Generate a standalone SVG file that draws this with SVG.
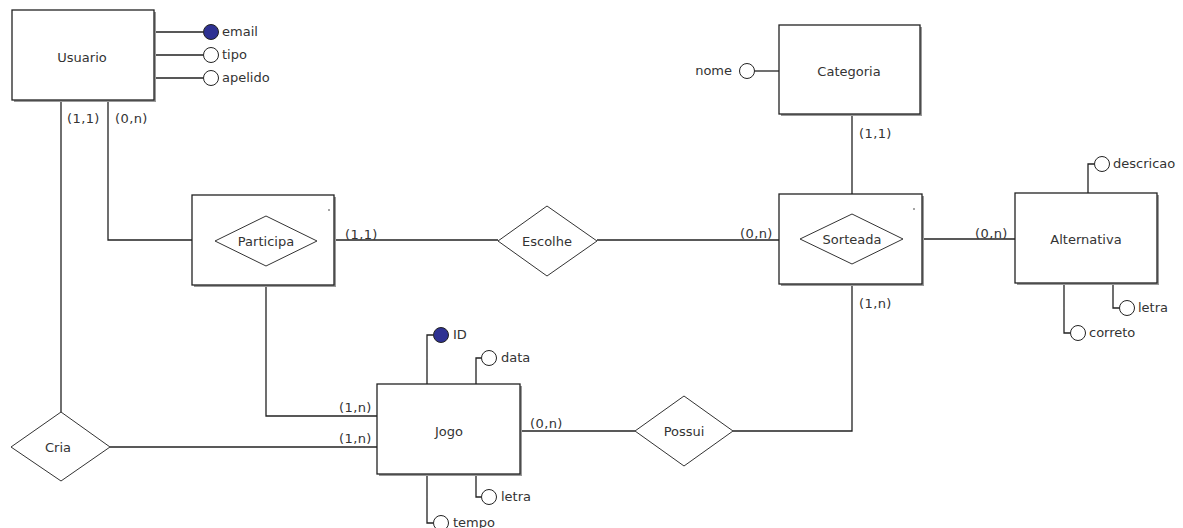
<svg xmlns="http://www.w3.org/2000/svg" width="1183" height="528" viewBox="0 0 1183 528">
<style>
.ent{fill:#fff;stroke:#222;stroke-width:1.3}
.sh{fill:#9a9a9a}
.rel{fill:#fff;stroke:#333;stroke-width:1}
.ln{fill:none;stroke:#222;stroke-width:1.3}
.t{font-family:"DejaVu Sans",Verdana,sans-serif;font-size:13px;fill:#333}
.c{text-anchor:middle}
.card{font-family:"DejaVu Sans",Verdana,sans-serif;font-size:13px;fill:#333;letter-spacing:0.4px}
.at{fill:#fff;stroke:#222;stroke-width:1}
.pk{fill:#2e3192;stroke:#222;stroke-width:1}
</style>
<rect width="1183" height="528" fill="#fff"/>
<g id="connectors">
  <path class="ln" d="M155 32H203M155 55H203M155 78H203"/>
  <path class="ln" d="M61 100V412"/>
  <path class="ln" d="M108 100V240H215"/>
  <path class="ln" d="M266 266V416H377"/>
  <path class="ln" d="M110 447H377"/>
  <path class="ln" d="M335 240H498"/>
  <path class="ln" d="M597 240H779"/>
  <path class="ln" d="M852 114V214"/>
  <path class="ln" d="M903 239H1015"/>
  <path class="ln" d="M520 431H635"/>
  <path class="ln" d="M733 431H852V284"/>
  <path class="ln" d="M779 71H755"/>
  <path class="ln" d="M427 384V335H433M476 384V358H481M476 474V497H481M427 474V523H433"/>
  <path class="ln" d="M1088 193V164H1094M1113 283V308H1119M1064 283V333H1070"/>
  <text class="card" x="67" y="123">(1,1)</text>
  <text class="card" x="115" y="123">(0,n)</text>
  <text class="card" x="345" y="239">(1,1)</text>
  <text class="card" x="740" y="238">(0,n)</text>
  <text class="card" x="975" y="238">(0,n)</text>
  <text class="card" x="859" y="138">(1,1)</text>
  <text class="card" x="859" y="308">(1,n)</text>
  <text class="card" x="339" y="412">(1,n)</text>
  <text class="card" x="339" y="443">(1,n)</text>
  <text class="card" x="530" y="428">(0,n)</text>
</g>
<g id="Usuario">
  <rect class="sh" x="14" y="12" width="142" height="90"/>
  <rect class="ent" x="12" y="10" width="142" height="90"/>
  <text class="t c" x="82" y="62">Usuario</text>
  <circle class="pk" cx="211" cy="32" r="7.5"/>
  <circle class="at" cx="211" cy="55" r="7.5"/>
  <circle class="at" cx="211" cy="78" r="7.5"/>
  <text class="t" x="222" y="36">email</text>
  <text class="t" x="222" y="59">tipo</text>
  <text class="t" x="222" y="82">apelido</text>
</g>
<g id="Categoria">
  <rect class="sh" x="781" y="27" width="141" height="89"/>
  <rect class="ent" x="779" y="25" width="141" height="89"/>
  <text class="t c" x="849" y="76">Categoria</text>
  <circle class="at" cx="747" cy="71" r="7.5"/>
  <text class="t" x="732" y="75" text-anchor="end">nome</text>
</g>
<g id="Participa">
  <rect class="sh" x="194" y="197" width="142" height="90"/>
  <rect class="ent" x="192" y="195" width="142" height="90"/>
  <circle cx="329" cy="210" r="0.8" fill="#333"/>
  <polygon class="rel" points="215,241 266,216 317,241 266,266"/>
  <text class="t c" x="266" y="246">Participa</text>
</g>
<g id="Escolhe">
  <polygon class="rel" points="498,241 547,206 597,241 547,276"/>
  <text class="t c" x="547" y="246">Escolhe</text>
</g>
<g id="Sorteada">
  <rect class="sh" x="781" y="196" width="143" height="90"/>
  <rect class="ent" x="779" y="194" width="143" height="90"/>
  <circle cx="914" cy="209" r="0.8" fill="#333"/>
  <polygon class="rel" points="800,239 852,214 903,239 852,264"/>
  <text class="t c" x="852" y="244">Sorteada</text>
</g>
<g id="Alternativa">
  <rect class="sh" x="1017" y="195" width="142" height="90"/>
  <rect class="ent" x="1015" y="193" width="142" height="90"/>
  <text class="t c" x="1086" y="244">Alternativa</text>
  <circle class="at" cx="1102" cy="164" r="7.5"/>
  <text class="t" x="1113" y="168">descricao</text>
  <circle class="at" cx="1127" cy="308" r="7.5"/>
  <text class="t" x="1138" y="312">letra</text>
  <circle class="at" cx="1078" cy="333" r="7.5"/>
  <text class="t" x="1089" y="337">correto</text>
</g>
<g id="Cria">
  <polygon class="rel" points="11,447 61,412 110,447 61,481"/>
  <text class="t c" x="58" y="452">Cria</text>
</g>
<g id="Jogo">
  <rect class="sh" x="379" y="386" width="143" height="90"/>
  <rect class="ent" x="377" y="384" width="143" height="90"/>
  <text class="t c" x="449" y="436">Jogo</text>
  <circle class="pk" cx="441" cy="335" r="7.5"/>
  <text class="t" x="453" y="339">ID</text>
  <circle class="at" cx="489" cy="358" r="7.5"/>
  <text class="t" x="501" y="362">data</text>
  <circle class="at" cx="489" cy="497" r="7.5"/>
  <text class="t" x="501" y="501">letra</text>
  <circle class="at" cx="441" cy="523" r="7.5"/>
  <text class="t" x="453" y="527">tempo</text>
</g>
<g id="Possui">
  <polygon class="rel" points="635,431 684,396 733,431 684,466"/>
  <text class="t c" x="684" y="436">Possui</text>
</g>
</svg>
